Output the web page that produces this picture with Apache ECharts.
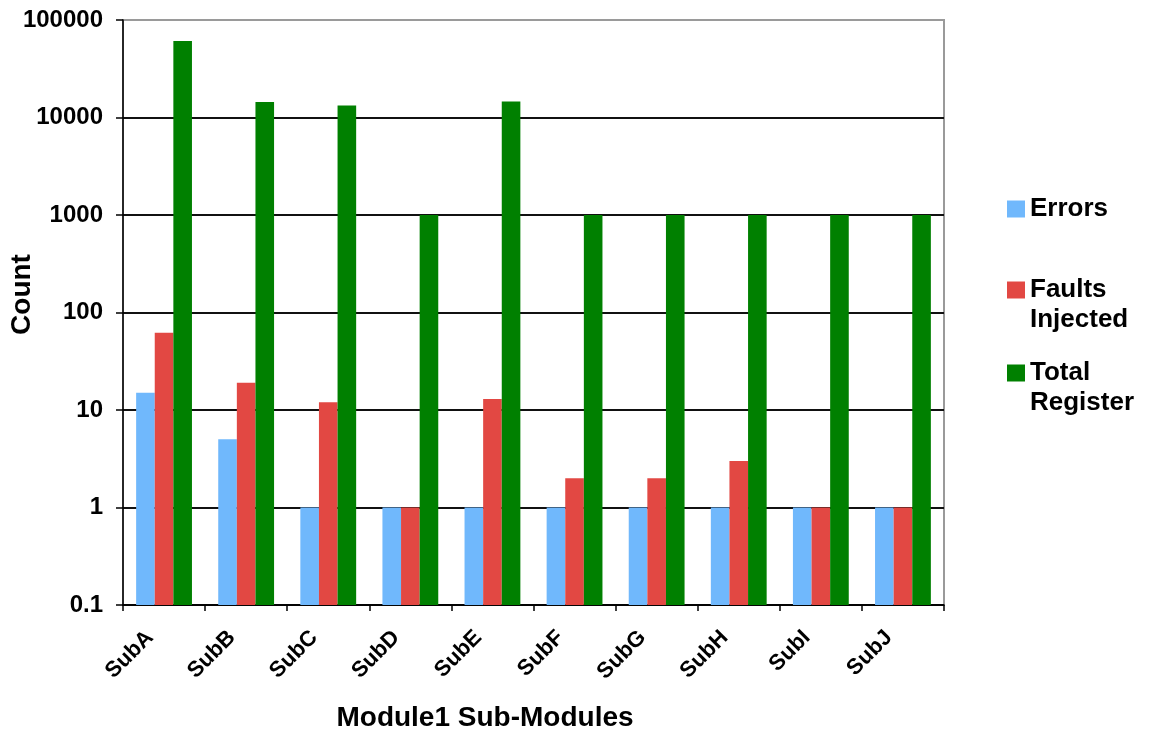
<!DOCTYPE html>
<html>
<head>
<meta charset="utf-8">
<script src="https://cdn.jsdelivr.net/npm/echarts@6/dist/echarts.min.js"></script>
<style>
  html, body { margin: 0; padding: 0; background: #fff; }
  #chart { width: 1155px; height: 731px; }
</style>
</head>
<body>
<div id="chart"></div>
<script>
// Sub-module names along the category axis
const categories = ['SubA', 'SubB', 'SubC', 'SubD', 'SubE', 'SubF', 'SubG', 'SubH', 'SubI', 'SubJ'];

// Counts per sub-module
const errors = [15, 5, 1, 1, 1, 1, 1, 1, 1, 1];
const faultsInjected = [62, 19, 12, 1, 13, 2, 2, 3, 1, 1];
const totalRegister = [61000, 14400, 13300, 1000, 14600, 1000, 1000, 1000, 1000, 1000];

// Decade labels of the log axis, from 10^-1 upward
const yTickLabels = ['0.1', '1', '10', '100', '1000', '10000', '100000'];

const seriesNames = ['Errors', 'Faults\nInjected', 'Total\nRegister'];
const seriesColors = ['#70b8fc', '#e24843', '#008000'];

const FONT = '"Liberation Sans", Arial, Helvetica, sans-serif';
const AXIS_FLOOR = 0.1;      // bars grow up from the bottom of the log axis
const GROUP_FRACTION = 0.68; // share of each category band taken by its three bars

const chart = echarts.init(document.getElementById('chart'), null, { renderer: 'canvas' });

// Clustered bar drawn from the axis floor, positioned through the axis scales
function makeBarSeries(name, values, slot, color) {
  return {
    name: name,
    type: 'custom',
    itemStyle: { color: color },
    encode: { x: 0, y: 1 },
    data: values.map(function (v, i) { return [i, v]; }),
    renderItem: function (params, api) {
      const idx = api.value(0);
      const topPt = api.coord([idx, api.value(1)]);
      const basePt = api.coord([idx, AXIS_FLOOR]);
      const band = api.size([1, 0])[0];
      const barW = band * GROUP_FRACTION / 3;
      const x0 = topPt[0] - band * GROUP_FRACTION / 2 + slot * barW;
      return {
        type: 'rect',
        shape: { x: x0, y: topPt[1], width: barW, height: basePt[1] - topPt[1] },
        style: api.style()
      };
    }
  };
}

function legendEntry(name, top, twoLine) {
  return {
    orient: 'vertical',
    left: 1007,
    top: top,
    padding: 0,
    icon: 'rect',
    itemWidth: 18,
    itemHeight: 17,
    selectedMode: false,
    data: [name],
    // a blank first line keeps the swatch level with the first line of a two-line name
    formatter: twoLine ? function (n) { return ' \n' + n; } : undefined,
    textStyle: {
      fontFamily: FONT,
      fontSize: 26,
      fontWeight: 'bold',
      color: '#000',
      lineHeight: 30
    }
  };
}

const option = {
  backgroundColor: '#fff',
  animation: false,
  grid: {
    left: 123,
    right: 211,
    top: 20,
    bottom: 126,
    outerBoundsMode: 'none',
    containLabel: false,
    show: true,
    borderColor: '#9a9a9a',
    borderWidth: 2,
    backgroundColor: 'transparent'
  },
  legend: [
    legendEntry(seriesNames[0], 194, false),
    legendEntry(seriesNames[1], 245, true),
    legendEntry(seriesNames[2], 328, true)
  ],
  xAxis: {
    type: 'category',
    data: categories,
    boundaryGap: true,
    name: 'Module1 Sub-Modules',
    nameLocation: 'middle',
    nameGap: 99,
    nameTextStyle: {
      fontFamily: FONT,
      fontSize: 28,
      fontWeight: 'bold',
      color: '#000',
      padding: [0, 97, 0, 0]
    },
    axisLine: { show: true, lineStyle: { color: '#000', width: 1.5 } },
    axisTick: { show: true, interval: 0, length: 6, lineStyle: { color: '#000', width: 1.5 } },
    axisLabel: {
      interval: 0,
      rotate: 45,
      margin: 15,
      padding: [0, 20, 0, 0],
      fontFamily: FONT,
      fontSize: 22,
      fontWeight: 'bold',
      color: '#000'
    },
    splitLine: { show: false }
  },
  yAxis: {
    type: 'log',
    logBase: 10,
    min: 0.1,
    max: 100000,
    interval: 1,
    name: 'Count',
    nameLocation: 'middle',
    nameGap: 87,
    nameMoveOverlap: false,
    nameRotate: 90,
    nameTextStyle: {
      fontFamily: FONT,
      fontSize: 28,
      fontWeight: 'bold',
      color: '#000',
      padding: [0, 0, 0, 36]
    },
    axisLine: { show: true, lineStyle: { color: '#000', width: 1.5 } },
    axisTick: { show: true, length: 7, lineStyle: { color: '#000', width: 1.5 } },
    axisLabel: {
      margin: 20,
      fontFamily: FONT,
      fontSize: 24,
      fontWeight: 'bold',
      color: '#000',
      formatter: function (v) {
        const idx = Math.round(Math.log10(v)) + 1;
        return yTickLabels[idx] !== undefined ? yTickLabels[idx] : String(v);
      }
    },
    splitLine: {
      show: true,
      lineStyle: {
        color: ['#111', '#111', '#111', '#111', '#111', '#111', '#9a9a9a'],
        width: 2
      }
    }
  },
  series: [
    makeBarSeries(seriesNames[0], errors, 0, seriesColors[0]),
    makeBarSeries(seriesNames[1], faultsInjected, 1, seriesColors[1]),
    makeBarSeries(seriesNames[2], totalRegister, 2, seriesColors[2])
  ]
};

chart.setOption(option);
</script>
</body>
</html>
